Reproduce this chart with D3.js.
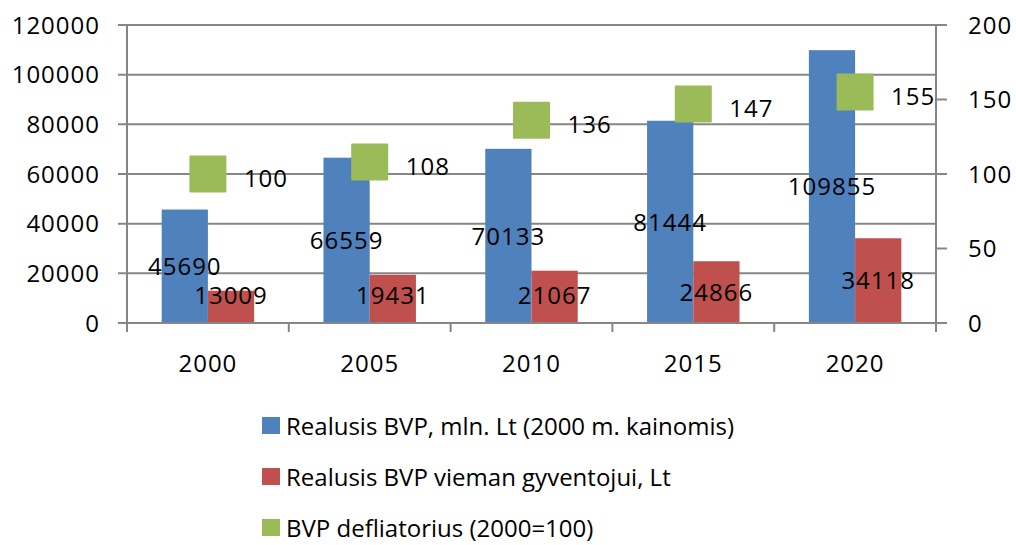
<!DOCTYPE html>
<html>
<head>
<meta charset="utf-8">
<script src="https://cdn.jsdelivr.net/npm/d3@7"></script>
<style>
  body { margin: 0; background: #fff; }
  text { font-family: "Open Sans", "Liberation Sans", sans-serif; fill: #000; }
  .num { letter-spacing: 1px; }
</style>
</head>
<body>
<div id="chart"></div>
<script>
// BVP chart data
const years = ["2000", "2005", "2010", "2015", "2020"];
const realGdp = [45690, 66559, 70133, 81444, 109855];
const gdpPerCapita = [13009, 19431, 21067, 24866, 34118];
const deflator = [100, 108, 136, 147, 155];
const leftTicks = [0, 20000, 40000, 60000, 80000, 100000, 120000];
const rightTicks = [0, 50, 100, 150, 200];
const seriesNames = ["Realusis BVP, mln. Lt (2000 m. kainomis)",
		     "Realusis BVP vieman gyventojui, Lt",
		     "BVP defliatorius (2000=100)"];
const colors = ["#4F81BD", "#C0504D", "#9BBB59"];

const width = 1016, height = 545;
const plot = {left: 127, right: 936, top: 25, bottom: 323};
const fs = 24;

const svg = d3.select("#chart").append("svg")
      .attr("width", width)
      .attr("height", height);

const x0 = d3.scaleBand().domain(years).range([plot.left, plot.right]).padding(0);
const x1 = d3.scaleBand().domain([0, 1]).range([0, x0.bandwidth()])
      .paddingInner(0).paddingOuter(0.75);
const yL = d3.scaleLinear().domain([0, 120000]).range([plot.bottom, plot.top]);
const yR = d3.scaleLinear().domain([0, 200]).range([plot.bottom, plot.top]);

const grey = "#868686";

// gridlines + left ticks
svg.append("g").selectAll("line")
    .data(leftTicks)
    .enter().append("line")
    .attr("x1", plot.left - 9)
    .attr("x2", d => d == 120000 ? plot.right + 11 : plot.right)
    .attr("y1", d => yL(d)).attr("y2", d => yL(d))
    .attr("stroke", grey).attr("stroke-width", 2);

svg.append("g").selectAll("text")
    .data(leftTicks)
    .enter().append("text")
    .classed("num", true)
    .attr("x", 100)
    .attr("y", d => yL(d))
    .attr("dy", "0.36em")
    .attr("text-anchor", "end")
    .style("font-size", fs + "px")
    .text(d => d);

// bars
const pairs = years.map((y, i) => [realGdp[i], gdpPerCapita[i]]);
const groups = svg.append("g").selectAll("g")
      .data(pairs)
      .enter().append("g")
      .attr("transform", (d, i) => "translate(" + x0(years[i]) + ",0)");

groups.selectAll("rect")
    .data(d => d)
    .enter().append("rect")
    .attr("x", (d, j) => x1(j))
    .attr("width", x1.bandwidth())
    .attr("y", d => yL(d))
    .attr("height", d => plot.bottom - yL(d))
    .attr("fill", (d, j) => colors[j]);

// axes lines drawn over bars
svg.append("line")
    .attr("x1", plot.left).attr("x2", plot.left)
    .attr("y1", plot.top).attr("y2", plot.bottom + 9)
    .attr("stroke", grey).attr("stroke-width", 2);
svg.append("line")
    .attr("x1", plot.right).attr("x2", plot.right)
    .attr("y1", plot.top).attr("y2", plot.bottom + 9)
    .attr("stroke", grey).attr("stroke-width", 2);
svg.append("line")
    .attr("x1", plot.left - 9).attr("x2", plot.right + 11)
    .attr("y1", plot.bottom).attr("y2", plot.bottom)
    .attr("stroke", grey).attr("stroke-width", 2);

// category tick marks
svg.append("g").selectAll("line")
    .data(years.slice(1))
    .enter().append("line")
    .attr("x1", d => x0(d)).attr("x2", d => x0(d))
    .attr("y1", plot.bottom).attr("y2", plot.bottom + 9)
    .attr("stroke", grey).attr("stroke-width", 2);

// right ticks
svg.append("g").selectAll("line")
    .data(rightTicks)
    .enter().append("line")
    .attr("x1", plot.right).attr("x2", plot.right + 11)
    .attr("y1", d => yR(d)).attr("y2", d => yR(d))
    .attr("stroke", grey).attr("stroke-width", 2);

svg.append("g").selectAll("text")
    .data(rightTicks)
    .enter().append("text")
    .classed("num", true)
    .attr("x", 968)
    .attr("y", d => yR(d))
    .attr("dy", "0.36em")
    .style("font-size", fs + "px")
    .text(d => d);

// category labels
svg.append("g").selectAll("text")
    .data(years)
    .enter().append("text")
    .classed("num", true)
    .attr("x", d => x0(d) + x0.bandwidth() / 2)
    .attr("y", 363)
    .attr("dy", "0.36em")
    .attr("text-anchor", "middle")
    .style("font-size", fs + "px")
    .text(d => d);

// deflator markers
const ms = 37;
const cx = (i) => x0(years[i]) + x0.bandwidth() / 2;
svg.append("g").selectAll("rect")
    .data(deflator)
    .enter().append("rect")
    .attr("x", (d, i) => cx(i) - ms / 2)
    .attr("y", d => yR(d) - ms / 2)
    .attr("width", ms).attr("height", ms)
    .attr("rx", 1)
    .attr("fill", colors[2]);

// bar labels
groups.selectAll("text")
    .data(d => d)
    .enter().append("text")
    .classed("num", true)
    .attr("x", (d, j) => x1(j) + x1.bandwidth() / 2)
    .attr("y", d => Math.min((yL(d) + plot.bottom) / 2, plot.bottom - 28))
    .attr("dy", "0.36em")
    .attr("text-anchor", "middle")
    .style("font-size", fs + "px")
    .text(d => d);

svg.append("g").selectAll("text")
    .data(deflator)
    .enter().append("text")
    .classed("num", true)
    .attr("x", (d, i) => cx(i) + 36)
    .attr("y", d => yR(d) + 4)
    .attr("dy", "0.36em")
    .style("font-size", fs + "px")
    .text(d => d);

// legend
const legend = svg.append("g").selectAll("g")
      .data(seriesNames)
      .enter().append("g")
      .attr("transform", (d, i) => "translate(262," + (426 + i * 51) + ")");
legend.append("rect")
    .attr("x", 0).attr("y", -9)
    .attr("width", 18).attr("height", 17)
    .attr("fill", (d, i) => colors[i]);
legend.append("text")
    .attr("x", 24)
    .attr("y", 0)
    .attr("dy", "0.36em")
    .style("font-size", fs + "px")
    .text(d => d);
</script>
</body>
</html>
